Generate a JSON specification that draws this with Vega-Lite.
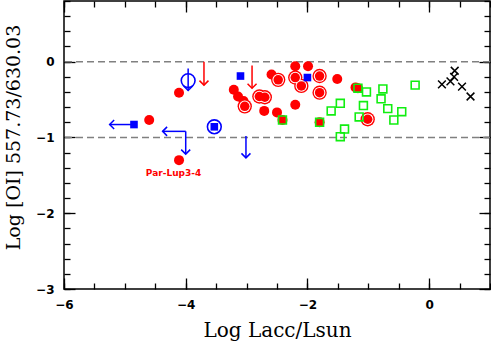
{
  "$schema": "https://vega.github.io/schema/vega-lite/v6.json",
  "width": 426,
  "height": 288,
  "autosize": {"type": "none"},
  "padding": {"left": 64, "top": 1, "right": 1, "bottom": 53},
  "background": "white",
  "config": {
    "view": {"stroke": "black", "strokeWidth": 1.5},
    "axis": {
      "grid": false, "domain": false, "tickColor": "black", "tickWidth": 1.3,
      "labelFont": "DejaVu Sans", "labelFontWeight": "bold", "labelFontSize": 12, "labelColor": "black",
      "labelFlush": false, "labelOverlap": false,
      "titleFont": "DejaVu Serif", "titleFontWeight": "normal", "titleFontSize": 19, "titleColor": "black"
    }
  },
  "datasets": {
    "pts": [
      {"x": -4.11, "y": -0.41, "type": "red"},
      {"x": -4.60, "y": -0.77, "type": "red"},
      {"x": -4.11, "y": -1.30, "type": "red"},
      {"x": -3.21, "y": -0.37, "type": "red"},
      {"x": -3.14, "y": -0.46, "type": "red"},
      {"x": -3.05, "y": -0.52, "type": "red"},
      {"x": -2.71, "y": -0.65, "type": "red"},
      {"x": -2.50, "y": -0.67, "type": "red"},
      {"x": -2.59, "y": -0.17, "type": "red"},
      {"x": -2.20, "y": -0.06, "type": "red"},
      {"x": -1.99, "y": -0.06, "type": "red"},
      {"x": -1.51, "y": -0.23, "type": "red"},
      {"x": -2.20, "y": -0.57, "type": "red"},
      {"x": -1.21, "y": -0.34, "type": "red"},
      {"x": -3.03, "y": -0.59, "type": "red_ring"},
      {"x": -2.79, "y": -0.46, "type": "red_ring"},
      {"x": -2.70, "y": -0.47, "type": "red_ring"},
      {"x": -2.48, "y": -0.24, "type": "red_ring"},
      {"x": -2.20, "y": -0.21, "type": "red_ring"},
      {"x": -2.10, "y": -0.32, "type": "red_ring"},
      {"x": -1.80, "y": -0.19, "type": "red_ring"},
      {"x": -1.80, "y": -0.41, "type": "red_ring"},
      {"x": -1.01, "y": -0.76, "type": "red_ring"},
      {"x": -2.41, "y": -0.77, "type": "red_green"},
      {"x": -1.80, "y": -0.80, "type": "red_green"},
      {"x": -1.17, "y": -0.35, "type": "red_green"},
      {"x": -1.61, "y": -0.65, "type": "green"},
      {"x": -1.46, "y": -0.55, "type": "green"},
      {"x": -1.39, "y": -0.89, "type": "green"},
      {"x": -1.46, "y": -0.99, "type": "green"},
      {"x": -1.03, "y": -0.40, "type": "green"},
      {"x": -1.08, "y": -0.58, "type": "green"},
      {"x": -1.15, "y": -0.73, "type": "green"},
      {"x": -0.76, "y": -0.36, "type": "green"},
      {"x": -0.79, "y": -0.49, "type": "green"},
      {"x": -0.68, "y": -0.62, "type": "green"},
      {"x": -0.58, "y": -0.77, "type": "green"},
      {"x": -0.45, "y": -0.66, "type": "green"},
      {"x": -0.23, "y": -0.31, "type": "green"},
      {"x": 0.21, "y": -0.30, "type": "cross"},
      {"x": 0.35, "y": -0.26, "type": "cross"},
      {"x": 0.42, "y": -0.12, "type": "cross"},
      {"x": 0.41, "y": -0.20, "type": "cross"},
      {"x": 0.54, "y": -0.33, "type": "cross"},
      {"x": 0.68, "y": -0.46, "type": "cross"},
      {"x": -3.10, "y": -0.19, "type": "blue_sq"},
      {"x": -2.00, "y": -0.21, "type": "blue_sq"},
      {"x": -4.85, "y": -0.83, "type": "blue_sq"},
      {"x": -3.96, "y": -0.25, "type": "blue_circ"},
      {"x": -3.53, "y": -0.86, "type": "blue_sq_circ"}
    ],
    "lims": [
      {"x": -4.85, "y": -0.83, "x2": -5.25, "y2": -0.83, "group": "blue", "dir": "left"},
      {"x": -3.96, "y": -0.09, "x2": -3.96, "y2": -0.38, "group": "blue", "dir": "down"},
      {"x": -3.70, "y": 0.0, "x2": -3.70, "y2": -0.31, "group": "red", "dir": "down"},
      {"x": -2.91, "y": -0.05, "x2": -2.91, "y2": -0.35, "group": "red", "dir": "down"},
      {"x": -4.00, "y": -0.92, "x2": -4.38, "y2": -0.92, "group": "blue", "dir": "left"},
      {"x": -4.00, "y": -0.92, "x2": -4.00, "y2": -1.22, "group": "blue", "dir": "down"},
      {"x": -3.01, "y": -0.98, "x2": -3.01, "y2": -1.27, "group": "blue", "dir": "down"}
    ],
    "refs": [{"y": 0}, {"y": -1}],
    "notes": [{"x": -4.20, "y": -1.476, "label": "Par-Lup3-4"}]
  },
  "resolve": {"axis": {"x": "independent", "y": "independent"}},
  "layer": [
    {
      "data": {"name": "notes"},
      "mark": {"type": "text", "color": "#ff0000", "font": "DejaVu Sans", "fontWeight": "bold", "fontSize": 9, "align": "center", "baseline": "middle"},
      "encoding": {
        "x": {"field": "x", "type": "quantitative", "scale": {"domain": [-6, 1], "nice": false, "zero": false},
          "axis": {"orient": "top", "labels": false, "title": null, "tickSize": -6,
            "values": [-6,-5.5,-5,-4.5,-4,-3.5,-3,-2.5,-2,-1.5,-1,-0.5,0,0.5,1]}},
        "y": {"field": "y", "type": "quantitative", "scale": {"domain": [-3, 0.8], "nice": false, "zero": false},
          "axis": {"orient": "right", "labels": false, "title": null, "tickSize": -6,
            "values": [-3,-2.8,-2.6,-2.4,-2.2,-2,-1.8,-1.6,-1.4,-1.2,-1,-0.8,-0.6,-0.4,-0.2,0,0.2,0.4,0.6,0.8]}},
        "text": {"field": "label"}
      }
    },
    {
      "data": {"name": "lims"},
      "mark": {"type": "point", "filled": false, "strokeWidth": 1.5, "size": 81, "opacity": 1},
      "encoding": {
        "x": {"field": "x2", "type": "quantitative", "scale": {"domain": [-6, 1], "nice": false, "zero": false},
          "axis": {"orient": "bottom", "labels": false, "title": null, "tickSize": -6,
            "values": [-6,-5.5,-5,-4.5,-4,-3.5,-3,-2.5,-2,-1.5,-1,-0.5,0,0.5,1]}},
        "y": {"field": "y2", "type": "quantitative", "scale": {"domain": [-3, 0.8], "nice": false, "zero": false},
          "axis": {"orient": "left", "labels": false, "title": null, "tickSize": -6,
            "values": [-3,-2.8,-2.6,-2.4,-2.2,-2,-1.8,-1.6,-1.4,-1.2,-1,-0.8,-0.6,-0.4,-0.2,0,0.2,0.4,0.6,0.8]}},
        "shape": {"field": "dir", "type": "nominal", "scale": {"domain": ["down", "left"], "range": ["M-1,-1L0,0L1,-1", "M1,-1L0,0L1,1"]}, "legend": null},
        "color": {"field": "group", "type": "nominal", "scale": {"domain": ["red", "blue"], "range": ["#ff0000", "#0000ff"]}, "legend": null}
      }
    },
    {
      "data": {"name": "pts"},
      "transform": [{"filter": "datum.type === 'cross'"}],
      "mark": {"type": "point", "shape": "M-1,-1L1,1M-1,1L1,-1", "filled": false, "stroke": "black", "strokeWidth": 1.5, "size": 60, "opacity": 1},
      "encoding": {
        "x": {"field": "x", "type": "quantitative", "scale": {"domain": [-6, 1], "nice": false, "zero": false},
          "axis": {"orient": "top", "labels": false, "title": null, "tickSize": -11, "values": [-6, -4, -2, 0]}},
        "y": {"field": "y", "type": "quantitative", "scale": {"domain": [-3, 0.8], "nice": false, "zero": false},
          "axis": {"orient": "right", "labels": false, "title": null, "tickSize": -11, "values": [-3, -2, -1, 0]}}
      }
    },
    {
      "layer": [
        {
          "data": {"name": "refs"},
          "mark": {"type": "rule", "color": "#808080", "strokeWidth": 1.5, "strokeDash": [7, 4]},
          "encoding": {"y": {"field": "y", "type": "quantitative", "scale": {"domain": [-3, 0.8], "nice": false, "zero": false}}}
        },
        {
          "data": {"name": "lims"},
          "mark": {"type": "rule", "strokeWidth": 1.5},
          "encoding": {
            "x": {"field": "x", "type": "quantitative"},
            "y": {"field": "y", "type": "quantitative"},
            "x2": {"field": "x2"},
            "y2": {"field": "y2"},
            "color": {"field": "group", "type": "nominal", "legend": null}
          }
        },
        {
          "data": {"name": "pts"},
          "transform": [{"filter": "datum.type === 'red' || datum.type === 'red_green'"}],
          "mark": {"type": "circle", "color": "#ff0000", "size": 100, "opacity": 1},
          "encoding": {
            "x": {"field": "x", "type": "quantitative", "scale": {"domain": [-6, 1], "nice": false, "zero": false},
              "axis": {"orient": "bottom", "title": "Log Lacc/Lsun", "titleFontSize": 20, "format": "d",
                "values": [-6, -4, -2, 0], "labelOverlap": false, "tickSize": -11,
                "labelPadding": 21, "titleBaseline": "alphabetic", "titleY": 47}},
            "y": {"field": "y", "type": "quantitative", "scale": {"domain": [-3, 0.8], "nice": false, "zero": false},
              "axis": {"orient": "left", "title": "Log [OI] 557.73/630.03", "format": "d",
                "values": [-3, -2, -1, 0], "labelOverlap": false, "tickSize": -11,
                "labelPadding": 21, "titleBaseline": "alphabetic", "titleX": -45, "titleY": 136, "titleAlign": "center", "titleAngle": -90}}
          }
        },
        {
          "data": {"name": "pts"},
          "transform": [{"filter": "datum.type === 'red_ring'"}],
          "mark": {"type": "circle", "color": "#ff0000", "size": 205, "opacity": 1},
          "encoding": {"x": {"field": "x", "type": "quantitative"}, "y": {"field": "y", "type": "quantitative"}}
        },
        {
          "data": {"name": "pts"},
          "transform": [{"filter": "datum.type === 'red_ring'"}],
          "mark": {"type": "circle", "color": "#ffffff", "size": 135, "opacity": 1},
          "encoding": {"x": {"field": "x", "type": "quantitative"}, "y": {"field": "y", "type": "quantitative"}}
        },
        {
          "data": {"name": "pts"},
          "transform": [{"filter": "datum.type === 'red_ring'"}],
          "mark": {"type": "circle", "color": "#ff0000", "size": 90, "opacity": 1},
          "encoding": {"x": {"field": "x", "type": "quantitative"}, "y": {"field": "y", "type": "quantitative"}}
        },
        {
          "data": {"name": "pts"},
          "transform": [{"filter": "datum.type === 'green' || datum.type === 'red_green'"}],
          "mark": {"type": "square", "filled": false, "stroke": "#11ee11", "strokeWidth": 1.6, "size": 62, "opacity": 1},
          "encoding": {"x": {"field": "x", "type": "quantitative"}, "y": {"field": "y", "type": "quantitative"}}
        },
        {
          "data": {"name": "pts"},
          "transform": [{"filter": "datum.type === 'blue_circ' || datum.type === 'blue_sq_circ'"}],
          "mark": {"type": "point", "shape": "circle", "filled": false, "stroke": "#0000ff", "strokeWidth": 1.6, "size": 190, "opacity": 1},
          "encoding": {"x": {"field": "x", "type": "quantitative"}, "y": {"field": "y", "type": "quantitative"}}
        },
        {
          "data": {"name": "pts"},
          "transform": [{"filter": "datum.type === 'blue_sq' || datum.type === 'blue_sq_circ'"}],
          "mark": {"type": "square", "color": "#0000ff", "size": 58, "opacity": 1},
          "encoding": {"x": {"field": "x", "type": "quantitative"}, "y": {"field": "y", "type": "quantitative"}}
        }
      ]
    }
  ]
}
